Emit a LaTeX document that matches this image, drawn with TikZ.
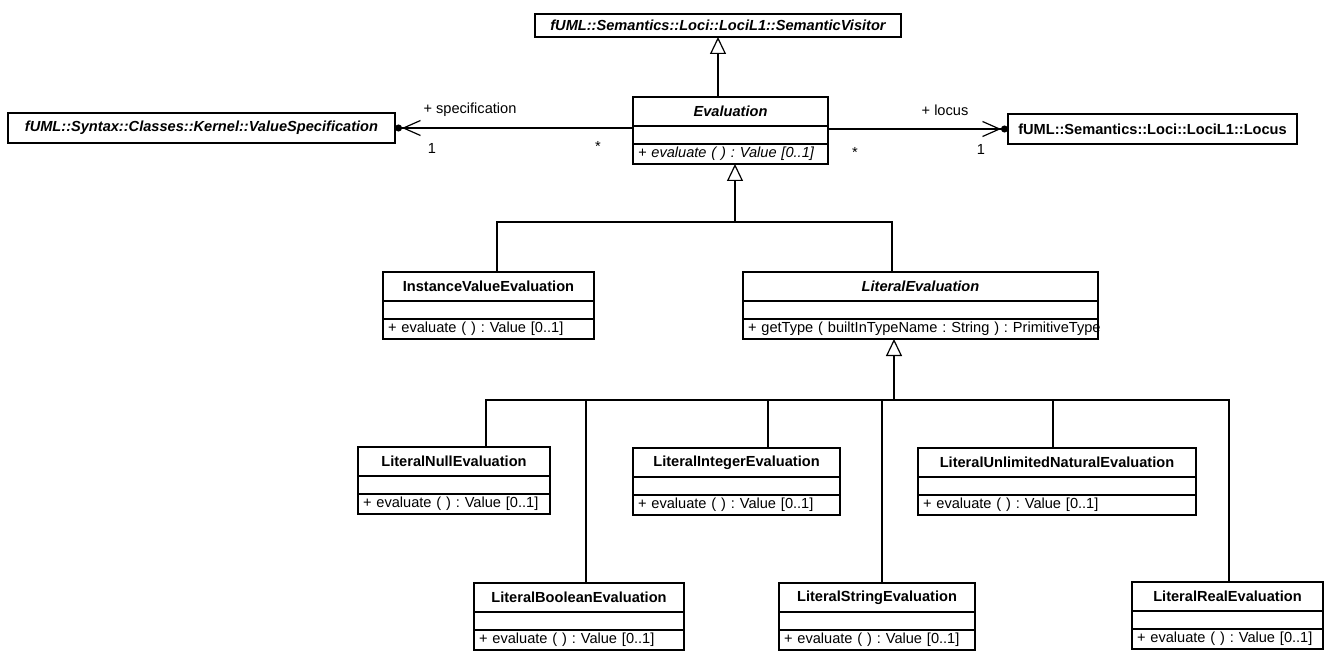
\documentclass[tikz,border=0pt]{standalone}
\usepackage{fontspec}
\setmainfont{Liberation Sans}
\usepackage{tikz}
\usetikzlibrary{arrows.meta,positioning}
\pgfdeclarelayer{bg}
\pgfsetlayers{bg,main}
\frenchspacing

\begin{document}
\begin{tikzpicture}[
  x=1pt,
  y=-1pt,
  every node/.style={
    outer sep=0pt,
    font=\fontsize{14.6}{17}\selectfont
  },
  classbox/.style={
    draw,
    line width=1.3pt,
    inner xsep=5pt,
    inner ysep=0pt,
    minimum height=30pt,
    text width=#1-10pt,
    align=center,
    font=\fontsize{14.6}{17}\selectfont\bfseries
  },
  classhead/.style={
    draw,
    line width=1.3pt,
    inner xsep=5pt,
    inner ysep=0pt,
    minimum height=29pt,
    text width=#1-10pt,
    align=center,
    font=\fontsize{14.6}{17}\selectfont\bfseries
  },
  classattr/.style={
    draw,
    line width=1.3pt,
    inner xsep=5pt,
    inner ysep=0pt,
    minimum height=18pt,
    text width=#1-10pt
  },
  classop/.style={
    draw,
    line width=1.3pt,
    inner xsep=5pt,
    inner ysep=0pt,
    minimum height=20pt,
    text width=#1-10pt,
    align=left,
    execute at begin node=\hbox\bgroup,
    execute at end node=\egroup
  },
  abstract/.style={
    font=\fontsize{14.6}{17}\selectfont\bfseries\itshape
  },
  role/.style={
    inner sep=0pt
  },
  branch/.style={
    draw,
    line width=1.2pt
  },
  gen/.style={
    draw,
    line width=1.2pt,
    -{Triangle[open,length=17pt,width=16pt]}
  },
  assoc/.style={
    draw,
    line width=1.2pt,
    -{Straight Barb[length=17pt,width=15pt] Circle[length=7pt]}
  }
]

\useasboundingbox (0,0) rectangle (1335,652);

% Top row
\node[classbox=366pt, abstract, minimum height=23pt] (visitor) at (718,25.5)
  {fUML::Semantics::Loci::LociL1::SemanticVisitor};
\node[classbox=387pt, abstract] (spec)  at (201.5,128) {fUML::Syntax::Classes::Kernel::ValueSpecification};
\node[classbox=289pt]           (locus) at (1152.5,129) {fUML::Semantics::Loci::LociL1::Locus};

% Evaluation
\node[classhead=195pt, abstract, anchor=north] (evalH) at (730.5,97) {Evaluation};
\node[classattr=195pt, below=0pt of evalH] (evalA) {};
\node[classop=195pt, below=0pt of evalA, font=\fontsize{14.6}{17}\selectfont\itshape] (evalO)
  {+ evaluate ( ) : Value [0..1]};

% Second level
\node[classhead=211pt, anchor=north] (iveH) at (488.5,272) {InstanceValueEvaluation};
\node[classattr=211pt, below=0pt of iveH] (iveA) {};
\node[classop=211pt, below=0pt of iveA] (iveO) {+ evaluate ( ) : Value [0..1]};

\node[classhead=355pt, abstract, anchor=north] (litH) at (920.5,272) {LiteralEvaluation};
\node[classattr=355pt, below=0pt of litH] (litA) {};
\node[classop=355pt, below=0pt of litA] (litO) {+ getType ( builtInTypeName : String ) : PrimitiveType};

% Literal subclasses, upper row
\node[classhead=192pt, anchor=north] (nullH) at (454,447) {LiteralNullEvaluation};
\node[classattr=192pt, below=0pt of nullH] (nullA) {};
\node[classop=192pt, below=0pt of nullA] (nullO) {+ evaluate ( ) : Value [0..1]};

\node[classhead=207pt, anchor=north] (intH) at (736.5,448) {LiteralIntegerEvaluation};
\node[classattr=207pt, below=0pt of intH] (intA) {};
\node[classop=207pt, below=0pt of intA] (intO) {+ evaluate ( ) : Value [0..1]};

\node[classhead=278pt, anchor=north] (unlH) at (1057,448) {LiteralUnlimitedNaturalEvaluation};
\node[classattr=278pt, below=0pt of unlH] (unlA) {};
\node[classop=278pt, below=0pt of unlA] (unlO) {+ evaluate ( ) : Value [0..1]};

% Literal subclasses, lower row
\node[classhead=210pt, anchor=north] (boolH) at (579,583) {LiteralBooleanEvaluation};
\node[classattr=210pt, below=0pt of boolH] (boolA) {};
\node[classop=210pt, below=0pt of boolA] (boolO) {+ evaluate ( ) : Value [0..1]};

\node[classhead=196pt, anchor=north] (strH) at (877,583) {LiteralStringEvaluation};
\node[classattr=196pt, below=0pt of strH] (strA) {};
\node[classop=196pt, below=0pt of strA] (strO) {+ evaluate ( ) : Value [0..1]};

\node[classhead=191pt, anchor=north] (realH) at (1227.5,582) {LiteralRealEvaluation};
\node[classattr=191pt, below=0pt of realH] (realA) {};
\node[classop=191pt, below=0pt of realA] (realO) {+ evaluate ( ) : Value [0..1]};

% Association ends
\node[role] (specname)  at (470,110) {+ specification};
\node[role] (specmult)  at (432,148) {1};
\node[role] (specstar)  at (598,146) {*};
\node[role] (locusname) at (945,110) {+ locus};
\node[role] (locusmult) at (981,149) {1};
\node[role] (locusstar) at (855,152) {*};

\begin{pgfonlayer}{bg}

% Evaluation to SemanticVisitor
\draw[gen] (visitor.south |- evalH.north) -- (visitor.south);

% Associations
\draw[assoc] (evalA.west |- spec.east) -- (spec.east);
\draw[assoc] (evalA.east |- locus.west) -- (locus.west);

% Subclasses of Evaluation
\coordinate (evalbus) at (735,222);
\draw[gen] (evalbus) -- (evalbus |- evalO.south);
\draw[branch] ([xshift=8.5pt]iveH.north) |- (evalbus);
\draw[branch] ([xshift=-28.5pt]litH.north) |- (evalbus);

% Subclasses of LiteralEvaluation
\coordinate (litbus) at (894,400);
\draw[gen] (litbus) -- (litbus |- litO.south);
\draw[branch] ([xshift=32pt]nullH.north) |- (litbus);
\draw[branch] ([xshift=7pt]boolH.north) |- (litbus);
\draw[branch] ([xshift=31.5pt]intH.north) |- (litbus);
\draw[branch] ([xshift=5pt]strH.north) |- (litbus);
\draw[branch] ([xshift=-4pt]unlH.north) |- (litbus);
\draw[branch] ([xshift=1.5pt]realH.north) |- (litbus);

\end{pgfonlayer}

\end{tikzpicture}
\end{document}
